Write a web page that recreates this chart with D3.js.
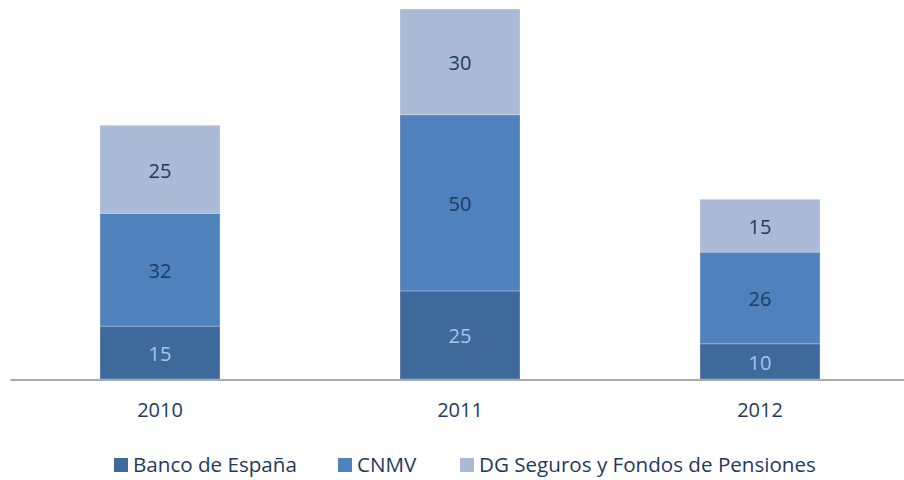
<!DOCTYPE html>
<html>
<head>
<meta charset="utf-8">
<script src="https://cdn.jsdelivr.net/npm/d3@7"></script>
<style>
  body { margin: 0; background: #fff; }
  svg { display: block; font-family: "Open Sans", sans-serif; }
</style>
</head>
<body>
<script>

// Data
var years = ["2010", "2011", "2012"];
var seriesNames = ["Banco de España", "CNMV", "DG Seguros y Fondos de Pensiones"];
var bancoEspana = [15, 25, 10];
var cnmv = [32, 50, 26];
var dgSeguros = [25, 30, 15];

var seriesColors = ["#40699b", "#4f81bd", "#aabad7"];
var labelColors = ["#a8c4ea", "#1f3a60", "#1f3a60"];

function drawChart(){

    const width = 904;
    const height = 480;
    const marginLeft = 10;
    const marginRight = -6;
    const baseline = 379;
    const plotTop = 9;

    const svg = d3.select("body").append("svg")
        .attr("width", width)
        .attr("height", height)
        .attr("viewBox", [0, 0, width, height]);

    // build rows for the stack
    var rows = years.map(function(y, i){
        return {year: y, "Banco de España": bancoEspana[i], "CNMV": cnmv[i], "DG Seguros y Fondos de Pensiones": dgSeguros[i]};
    });
    var stacked = d3.stack().keys(seriesNames)(rows);

    const x = d3.scaleBand()
        .domain(years)
        .range([marginLeft, width - marginRight])
        .paddingInner(0.6)
        .paddingOuter(0.3);

    const y = d3.scaleLinear()
        .domain([0, d3.max(stacked[stacked.length - 1], d => d[1])])
        .range([baseline, plotTop]);

    // bars
    const layers = svg.append("g")
        .selectAll("g")
        .data(stacked)
        .join("g")
        .attr("fill", (d, i) => seriesColors[i]);

    layers.selectAll("rect")
        .data(d => d)
        .join("rect")
        .attr("x", d => x(d.data.year))
        .attr("y", d => y(d[1]))
        .attr("height", d => y(d[0]) - y(d[1]))
        .attr("width", x.bandwidth())
        .attr("stroke", "#ffffff")
        .attr("stroke-opacity", 0.25)
        .attr("stroke-width", 1);

    // value labels
    stacked.forEach(function(layer, i){
        svg.append("g")
            .selectAll("text")
            .data(layer)
            .join("text")
            .attr("x", d => x(d.data.year) + x.bandwidth() / 2)
            .attr("y", d => (y(d[0]) + y(d[1])) / 2 + 1.5)
            .attr("dy", "0.35em")
            .attr("text-anchor", "middle")
            .attr("font-size", "20px")
            .attr("fill", labelColors[i])
            .text(d => d[1] - d[0]);
    });

    // x-axis
    svg.append("g")
        .attr("transform", `translate(0,${baseline + 0.5})`)
        .call(d3.axisBottom(x).tickSize(0).tickPadding(23))
        .call(g => g.select(".domain").attr("stroke", "#8c8c8c").attr("stroke-width", 1.3))
        .call(g => g.selectAll(".tick text")
            .attr("font-family", "Open Sans, sans-serif")
            .attr("font-size", "20px")
            .attr("fill", "#1f3a60"));

    // legend
    var legendX = [114, 338, 460];
    var legend = svg.append("g")
        .attr("transform", "translate(0,465)");

    var items = legend.selectAll("g")
        .data(seriesNames)
        .join("g")
        .attr("transform", (d, i) => `translate(${legendX[i]},0)`);

    items.append("rect")
        .attr("x", 0)
        .attr("y", -7)
        .attr("width", 14)
        .attr("height", 14)
        .attr("fill", (d, i) => seriesColors[i]);

    items.append("text")
        .attr("x", 19)
        .attr("y", 0)
        .attr("dy", "0.35em")
        .attr("font-size", "20.6px")
        .attr("fill", "#1f3a60")
        .text(d => d);
}

drawChart();
</script>
</body>
</html>
